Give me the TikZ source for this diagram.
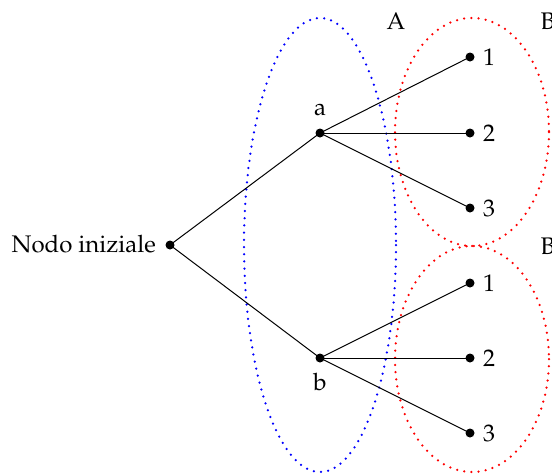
\documentclass[tikz,border=0pt]{standalone}
\usepackage[T1]{fontenc}
\usepackage{mathpazo}
\begin{document}
\begin{tikzpicture}[x=1pt,y=-1pt,
  every node/.style={font=\fontsize{24}{28}\selectfont},
  pt/.style={circle,fill=black,inner sep=0pt,minimum size=9pt},
  edge/.style={line width=1pt},
  dotring/.style={line width=2.5pt,line cap=round,dash pattern=on 0pt off 7.2pt}]
\useasboundingbox (0,0) rectangle (552,475);
\draw[dotring,blue] (320,245) ellipse [x radius=76, y radius=227];
\draw[dotring,red] (472,132) ellipse [x radius=77, y radius=114];
\draw[dotring,red] (472,359) ellipse [x radius=77, y radius=113];
\node[pt] (r) at (170,245) {};
\node[anchor=east,inner sep=0pt] (rl) at (156,244) {Nodo iniziale};
\node[pt] (a) at (320,133) {};
\node (al) at (320,110) {a};
\node[pt] (b) at (320,358) {};
\node (bl) at (320,382) {b};
\node[pt] (a1) at (470,57) {};
\node[pt] (a2) at (470,133) {};
\node[pt] (a3) at (470,208) {};
\node[pt] (b1) at (470,283) {};
\node[pt] (b2) at (470,358) {};
\node[pt] (b3) at (470,433) {};
\node[anchor=west,inner sep=0pt] (la1) at (483,57) {1};
\node[anchor=west,inner sep=0pt] (la2) at (483,133) {2};
\node[anchor=west,inner sep=0pt] (la3) at (483,208) {3};
\node[anchor=west,inner sep=0pt] (lb1) at (483,283) {1};
\node[anchor=west,inner sep=0pt] (lb2) at (483,358) {2};
\node[anchor=west,inner sep=0pt] (lb3) at (483,433) {3};
\node (A) at (396,21) {A};
\node (B1) at (548,21) {B};
\node (B2) at (548,246) {B};
\draw[edge] (r.center) -- (a.center);
\draw[edge] (r.center) -- (b.center);
\draw[edge] (a.center) -- (a1.center);
\draw[edge] (a.center) -- (a2.center);
\draw[edge] (a.center) -- (a3.center);
\draw[edge] (b.center) -- (b1.center);
\draw[edge] (b.center) -- (b2.center);
\draw[edge] (b.center) -- (b3.center);
\end{tikzpicture}
\end{document}
